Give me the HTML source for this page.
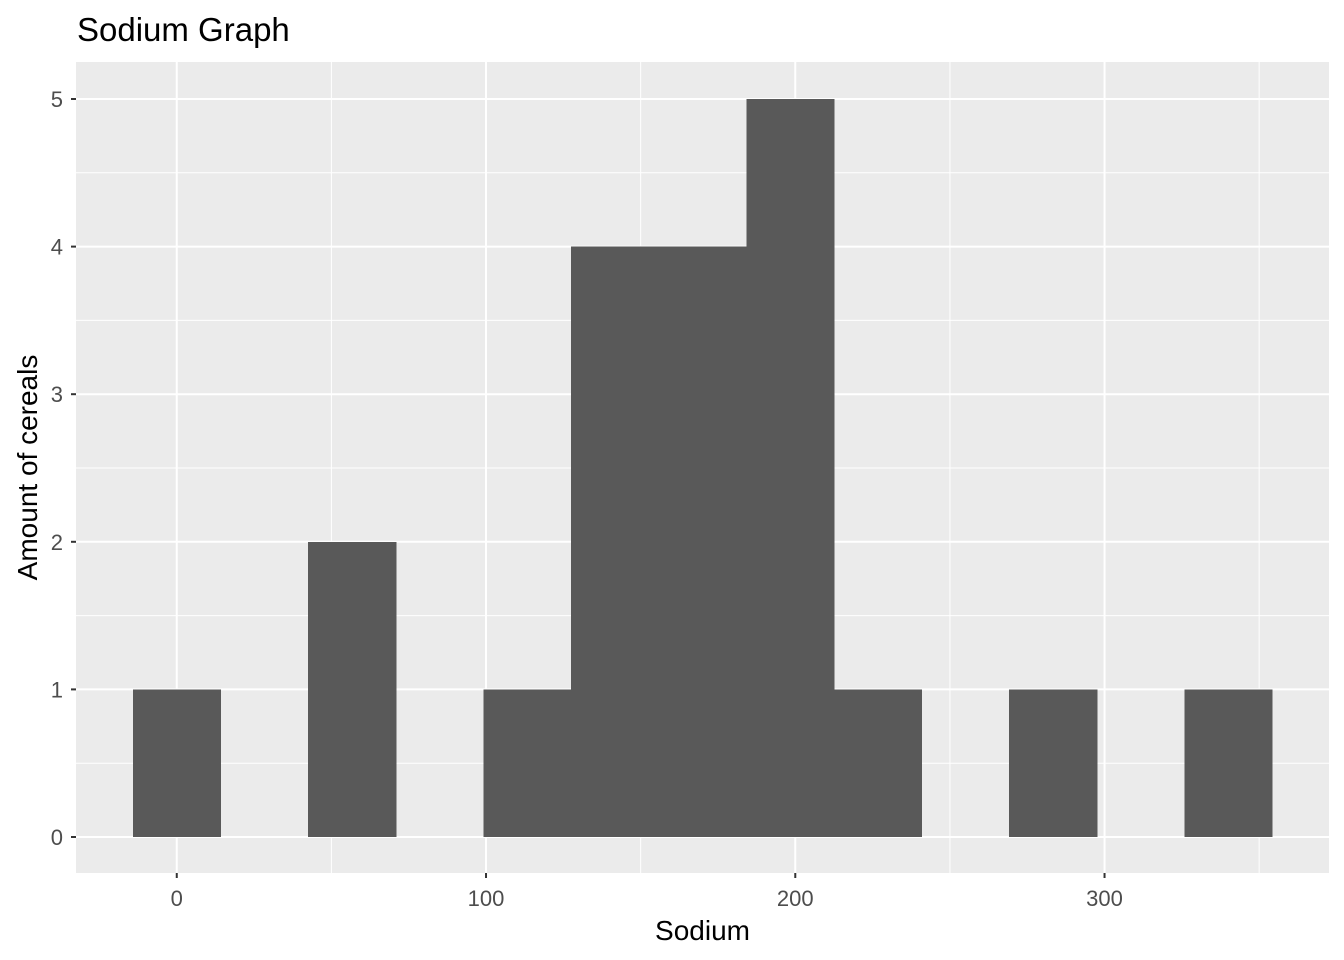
<!DOCTYPE html>
<html><head><meta charset="utf-8"><style>
body{margin:0;background:#fff;}
svg{display:block;font-family:"Liberation Sans",Arial,sans-serif;}
</style></head><body>
<svg id="chart" width="1344" height="960"></svg>
<script>
const binCenters=[0,28.33,56.67,85,113.33,141.67,170,198.33,226.67,255,283.33,311.67,340];
const counts=[1,0,2,0,1,4,4,5,1,0,1,0,1];
const binWidth=28.33;
const xTicks=[0,100,200,300];
const xMinor=[50,150,250,350];
const yTicks=[0,1,2,3,4,5];
const yMinor=[0.5,1.5,2.5,3.5,4.5];

const NS="http://www.w3.org/2000/svg";
const svg=document.getElementById('chart');
const L=76,R=1329,T=62,B=873;
const xMin=-32.58,xMax=372.58;
const xs=v=>L+(v-xMin)/(xMax-xMin)*(R-L);
const ys=v=>837-v*147.6;
function mk(tag,attrs,parent){const e=document.createElementNS(NS,tag);for(const k in attrs)e.setAttribute(k,attrs[k]);(parent||svg).appendChild(e);return e;}

const panel=mk('rect',{x:L,y:T,width:R-L,height:B-T,fill:'#ebebeb'});


xMinor.forEach(v=>{const l=mk('line',{x1:xs(v),x2:xs(v),y1:T,y2:B,stroke:'#fff','stroke-width':1});

});
yMinor.forEach(v=>{const l=mk('line',{x1:L,x2:R,y1:ys(v),y2:ys(v),stroke:'#fff','stroke-width':1});

});
xTicks.forEach(v=>{const l=mk('line',{x1:xs(v),x2:xs(v),y1:T,y2:B,stroke:'#fff','stroke-width':2});


const t=mk('line',{x1:xs(v),x2:xs(v),y1:B,y2:B+5,stroke:'#333','stroke-width':2});


const tx=mk('text',{x:xs(v),y:B+33,'text-anchor':'middle','font-size':22,fill:'#4d4d4d'});tx.textContent=v;

});
yTicks.forEach(v=>{const l=mk('line',{x1:L,x2:R,y1:ys(v),y2:ys(v),stroke:'#fff','stroke-width':2});


const t=mk('line',{x1:L-5,x2:L,y1:ys(v),y2:ys(v),stroke:'#333','stroke-width':2});


const tx=mk('text',{x:L-13,y:ys(v)+8,'text-anchor':'end','font-size':22,fill:'#4d4d4d'});tx.textContent=v;

});
binCenters.forEach((c,i)=>{if(!counts[i])return;
const x0=xs(c-binWidth/2),x1=xs(c+binWidth/2);
const r=mk('rect',{x:x0,y:ys(counts[i]),width:x1-x0+0.6,height:ys(0)-ys(counts[i]),fill:'#595959','shape-rendering':'crispEdges'});

});
const title=mk('text',{x:77,y:41,'font-size':33,fill:'#000'});title.textContent='Sodium Graph';


const xt=mk('text',{x:(L+R)/2,y:940,'text-anchor':'middle','font-size':28,fill:'#000'});xt.textContent='Sodium';


const yt=mk('text',{x:0,y:0,'text-anchor':'middle','font-size':28,fill:'#000',transform:`translate(37,${(T+B)/2}) rotate(-90)`});yt.textContent='Amount of cereals';


</script>
</body></html>
